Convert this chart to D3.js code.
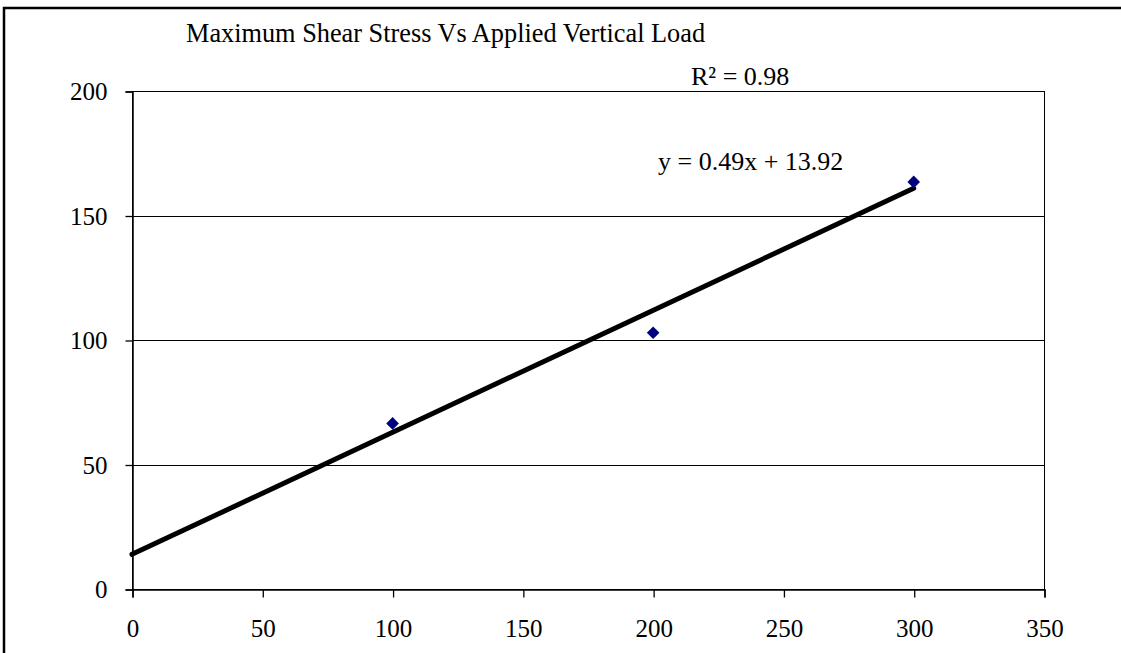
<!DOCTYPE html>
<html>
<head>
<meta charset="utf-8">
<script src="https://cdn.jsdelivr.net/npm/d3@7"></script>
<style>
  html, body { margin: 0; padding: 0; background: #fff; }
  svg { display: block; }
  text { font-family: "Liberation Serif", "Times New Roman", serif; fill: #000; }
</style>
</head>
<body>
<svg id="chart" width="1121" height="653"></svg>
<script>
// Applied vertical load (x) and measured maximum shear stress (y)
const loads = [100, 200, 300];
const shearStress = [66.5, 102.9, 163.5];

// Linear trend line coefficients as printed on the chart
const trendSlope = 0.49;
const trendIntercept = 13.92;
const trendRange = [0, 300];
const rSquared = 0.98;

const xTicks = [0, 50, 100, 150, 200, 250, 300, 350];
const yTicks = [0, 50, 100, 150, 200];
const gridValues = [50, 100, 150];

const titleText = "Maximum Shear Stress Vs Applied Vertical Load";

const svg = d3.select("#chart");
const W = 1121, H = 653;
const plot = { left: 132, top: 91, right: 1044, bottom: 589 };

svg.append("rect").attr("width", W).attr("height", H).attr("fill", "#fff");

// Outer chart frame
svg.append("rect")
  .attr("x", 4).attr("y", 8)
  .attr("width", W + 20).attr("height", H + 20)
  .attr("fill", "none").attr("stroke", "#000").attr("stroke-width", 2.5);

const x = d3.scaleLinear().domain([0, 350]).range([plot.left, plot.right]);
const y = d3.scaleLinear().domain([0, 200]).range([plot.bottom, plot.top]);

// Horizontal gridlines
svg.append("g").selectAll("line").data(gridValues).join("line")
  .attr("x1", plot.left).attr("x2", plot.right)
  .attr("y1", d => Math.round(y(d)) + 0.5).attr("y2", d => Math.round(y(d)) + 0.5)
  .attr("stroke", "#000").attr("stroke-width", 1);

// Plot-area border
svg.append("rect")
  .attr("x", plot.left + 0.5).attr("y", plot.top + 0.5)
  .attr("width", plot.right - plot.left).attr("height", plot.bottom - plot.top)
  .attr("fill", "none").attr("stroke", "#000").attr("stroke-width", 1);

// Axes
const xAxis = d3.axisBottom(x).tickValues(xTicks).tickSize(8).tickPadding(22).tickFormat(d3.format("d"));
const yAxis = d3.axisLeft(y).tickValues(yTicks).tickSize(7).tickPadding(18).tickFormat(d3.format("d"));

const gx = svg.append("g").attr("transform", `translate(0.5,${plot.bottom + 0.5})`).call(xAxis);
const gy = svg.append("g").attr("transform", `translate(${plot.left + 0.5},0.5)`).call(yAxis);

[gx, gy].forEach(g => {
  g.select(".domain").attr("stroke", "#000").attr("stroke-width", 1.5);
  g.selectAll(".tick line").attr("stroke", "#000").attr("stroke-width", 1.3);
  g.selectAll(".tick text")
    .attr("font-family", "Liberation Serif, serif")
    .attr("font-size", 25).attr("fill", "#000");
});

// Trend line from the fitted equation
const trendData = trendRange.map(v => ({ x: v, y: trendSlope * v + trendIntercept }));
svg.append("path")
  .datum(trendData)
  .attr("d", d3.line().x(d => x(d.x)).y(d => y(d.y)))
  .attr("fill", "none").attr("stroke", "#000").attr("stroke-width", 5)
  .attr("stroke-linecap", "round");

// Data markers: navy diamonds
svg.append("g").selectAll("path").data(loads.map((l, i) => ({ x: l, y: shearStress[i] }))).join("path")
  .attr("transform", d => `translate(${x(d.x)},${y(d.y)}) rotate(45)`)
  .attr("d", d3.symbol().type(d3.symbolSquare).size(80))
  .attr("fill", "#000080");

// Title
svg.append("text")
  .attr("x", 186).attr("y", 42)
  .attr("font-size", 26.3)
  .text(titleText);

// Trend equation and R² labels
svg.append("text")
  .attr("x", 691).attr("y", 85)
  .attr("font-size", 26)
  .text(`R² = ${rSquared.toFixed(2)}`);

svg.append("text")
  .attr("x", 658).attr("y", 170)
  .attr("font-size", 26)
  .text(`y = ${trendSlope}x + ${trendIntercept}`);
</script>
</body>
</html>
